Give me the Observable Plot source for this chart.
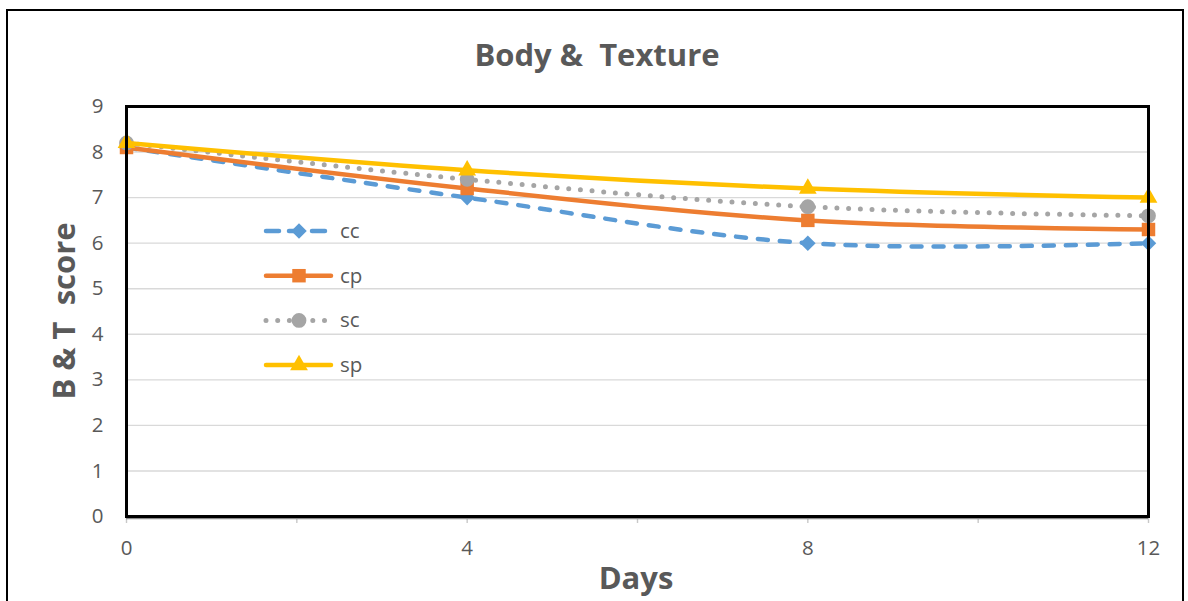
<!DOCTYPE html>
<html>
<head>
<meta charset="utf-8">
<script src="https://cdn.jsdelivr.net/npm/d3@7"></script>
<script src="https://cdn.jsdelivr.net/npm/@observablehq/plot@0.6"></script>
<style>
  html, body { margin: 0; padding: 0; background: #fff; }
  #wrap { position: relative; width: 1188px; height: 601px; overflow: hidden; font-family: "Open Sans", "Noto Sans", sans-serif; }
  #border { position: absolute; left: 6px; top: 9px; width: 1178px; height: 620px; border: 2px solid #000; box-sizing: border-box; }
  #chart { position: absolute; left: 0; top: 0; }
  #legend { position: absolute; left: 0; top: 0; pointer-events: none; }
  .title { position: absolute; white-space: pre; color: #595959; font-weight: 700; }
</style>
</head>
<body>
<div id="wrap">
  <div id="border"></div>
  <div id="chart"></div>
  <svg id="legend" width="1188" height="601"></svg>
  <div class="title" id="t-main" style="left:0;width:1194px;text-align:center;top:33px;font-size:31px;">Body &amp;  Texture</div>
  <div class="title" id="t-x" style="left:0;width:1272px;text-align:center;top:556px;font-size:31px;">Days</div>
  <div class="title" id="t-y" style="left:63px;top:311px;font-size:31px;transform:translate(-50%,-50%) rotate(-90deg);">B &amp; T  score</div>
</div>
<script>
// Storage days and sensory Body & Texture scores per treatment
const days = [0, 4, 8, 12];
const cc = [8.1, 7.0, 6.0, 6.0];
const cp = [8.1, 7.2, 6.5, 6.3];
const sc = [8.2, 7.4, 6.8, 6.6];
const sp = [8.2, 7.6, 7.2, 7.0];
const seriesNames = ["cc", "cp", "sc", "sp"];
const yTicks = [0, 1, 2, 3, 4, 5, 6, 7, 8, 9];
const xTicks = [0, 4, 8, 12];
const xMinorTicks = [0, 2, 4, 6, 8, 10, 12];

const values = { cc, cp, sc, sp };

// Line and marker styling for each treatment
const styles = {
  cc: { color: "#5B9BD5", dash: "10 12", legendDash: "13 10", symbol: "diamond2", r: 7 },
  cp: { color: "#ED7D31", dash: null, symbol: "square", r: 7.6 },
  sc: { color: "#A5A5A5", dash: "0 11.7", symbol: "circle", r: 7.4 },
  sp: { color: "#FFC000", dash: null, symbol: "triangle", r: 6.6 }
};

const rows = seriesNames.flatMap(name =>
  days.map((d, i) => ({ series: name, day: d, score: values[name][i] }))
);

const seriesMarks = seriesNames.flatMap(name => {
  const s = styles[name];
  const data = rows.filter(r => r.series === name);
  return [
    Plot.line(data, {
      x: "day", y: "score", stroke: s.color, strokeWidth: name === "sc" ? 5 : 4.5,
      strokeDasharray: s.dash ?? undefined, strokeLinecap: "round",
      curve: "cardinal"
    }),
    Plot.dot(data, { x: "day", y: "score", symbol: () => s.symbol, r: s.r, fill: s.color, stroke: "none" })
  ];
});

const chart = Plot.plot({
  width: 1188,
  height: 601,
  marginLeft: 126,
  marginRight: 40,
  marginTop: 106,
  marginBottom: 85,
  x: { domain: [0, 12] },
  y: { domain: [0, 9] },
  symbol: { type: "identity" },
  style: { fontFamily: "'Open Sans', 'Noto Sans', sans-serif", color: "#595959", background: "transparent", overflow: "visible" },
  marks: [
    Plot.gridY(yTicks, { stroke: "#d9d9d9", strokeOpacity: 1, strokeWidth: 1.4 }),
    Plot.axisX(xMinorTicks, { tickSize: 7, stroke: "#c8c8c8", strokeWidth: 1.4, tickFormat: () => "", label: null }),
    Plot.axisX(xTicks, { tickSize: 0, tickPadding: 24, fontSize: 20.5, fill: "#595959", label: null }),
    Plot.axisY(yTicks, { tickSize: 0, tickPadding: 23, fontSize: 20.5, fill: "#595959", label: null }),
    Plot.ruleY([0], { stroke: "#8c8c8c", strokeWidth: 1.5, dy: 2 }),
    ...seriesMarks,
    Plot.frame({ stroke: "#000", strokeWidth: 3 })
  ]
});
document.getElementById("chart").appendChild(chart);

// Legend drawn inside the plotting area
const legend = d3.select("#legend");
const symbolTypes = { diamond2: d3.symbolDiamond2, square: d3.symbolSquare, circle: d3.symbolCircle, triangle: d3.symbolTriangle };
seriesNames.forEach((name, i) => {
  const s = styles[name];
  const y = 231 + i * 44.7;
  const g = legend.append("g").attr("transform", `translate(0,${y})`);
  g.append("line")
    .attr("x1", 266).attr("x2", 331).attr("y1", 0).attr("y2", 0)
    .attr("stroke", s.color).attr("stroke-width", name === "sc" ? 5 : 4.5).attr("stroke-linecap", "round")
    .attr("stroke-dasharray", s.legendDash ?? s.dash);
  g.append("path")
    .attr("transform", "translate(299,0)")
    .attr("d", d3.symbol(symbolTypes[s.symbol], Math.PI * s.r * s.r)())
    .attr("fill", s.color);
  g.append("text")
    .attr("x", 340).attr("y", 7)
    .attr("font-family", "'Open Sans', 'Noto Sans', sans-serif")
    .attr("font-size", 20.5).attr("fill", "#595959")
    .text(name);
});
</script>
</body>
</html>
